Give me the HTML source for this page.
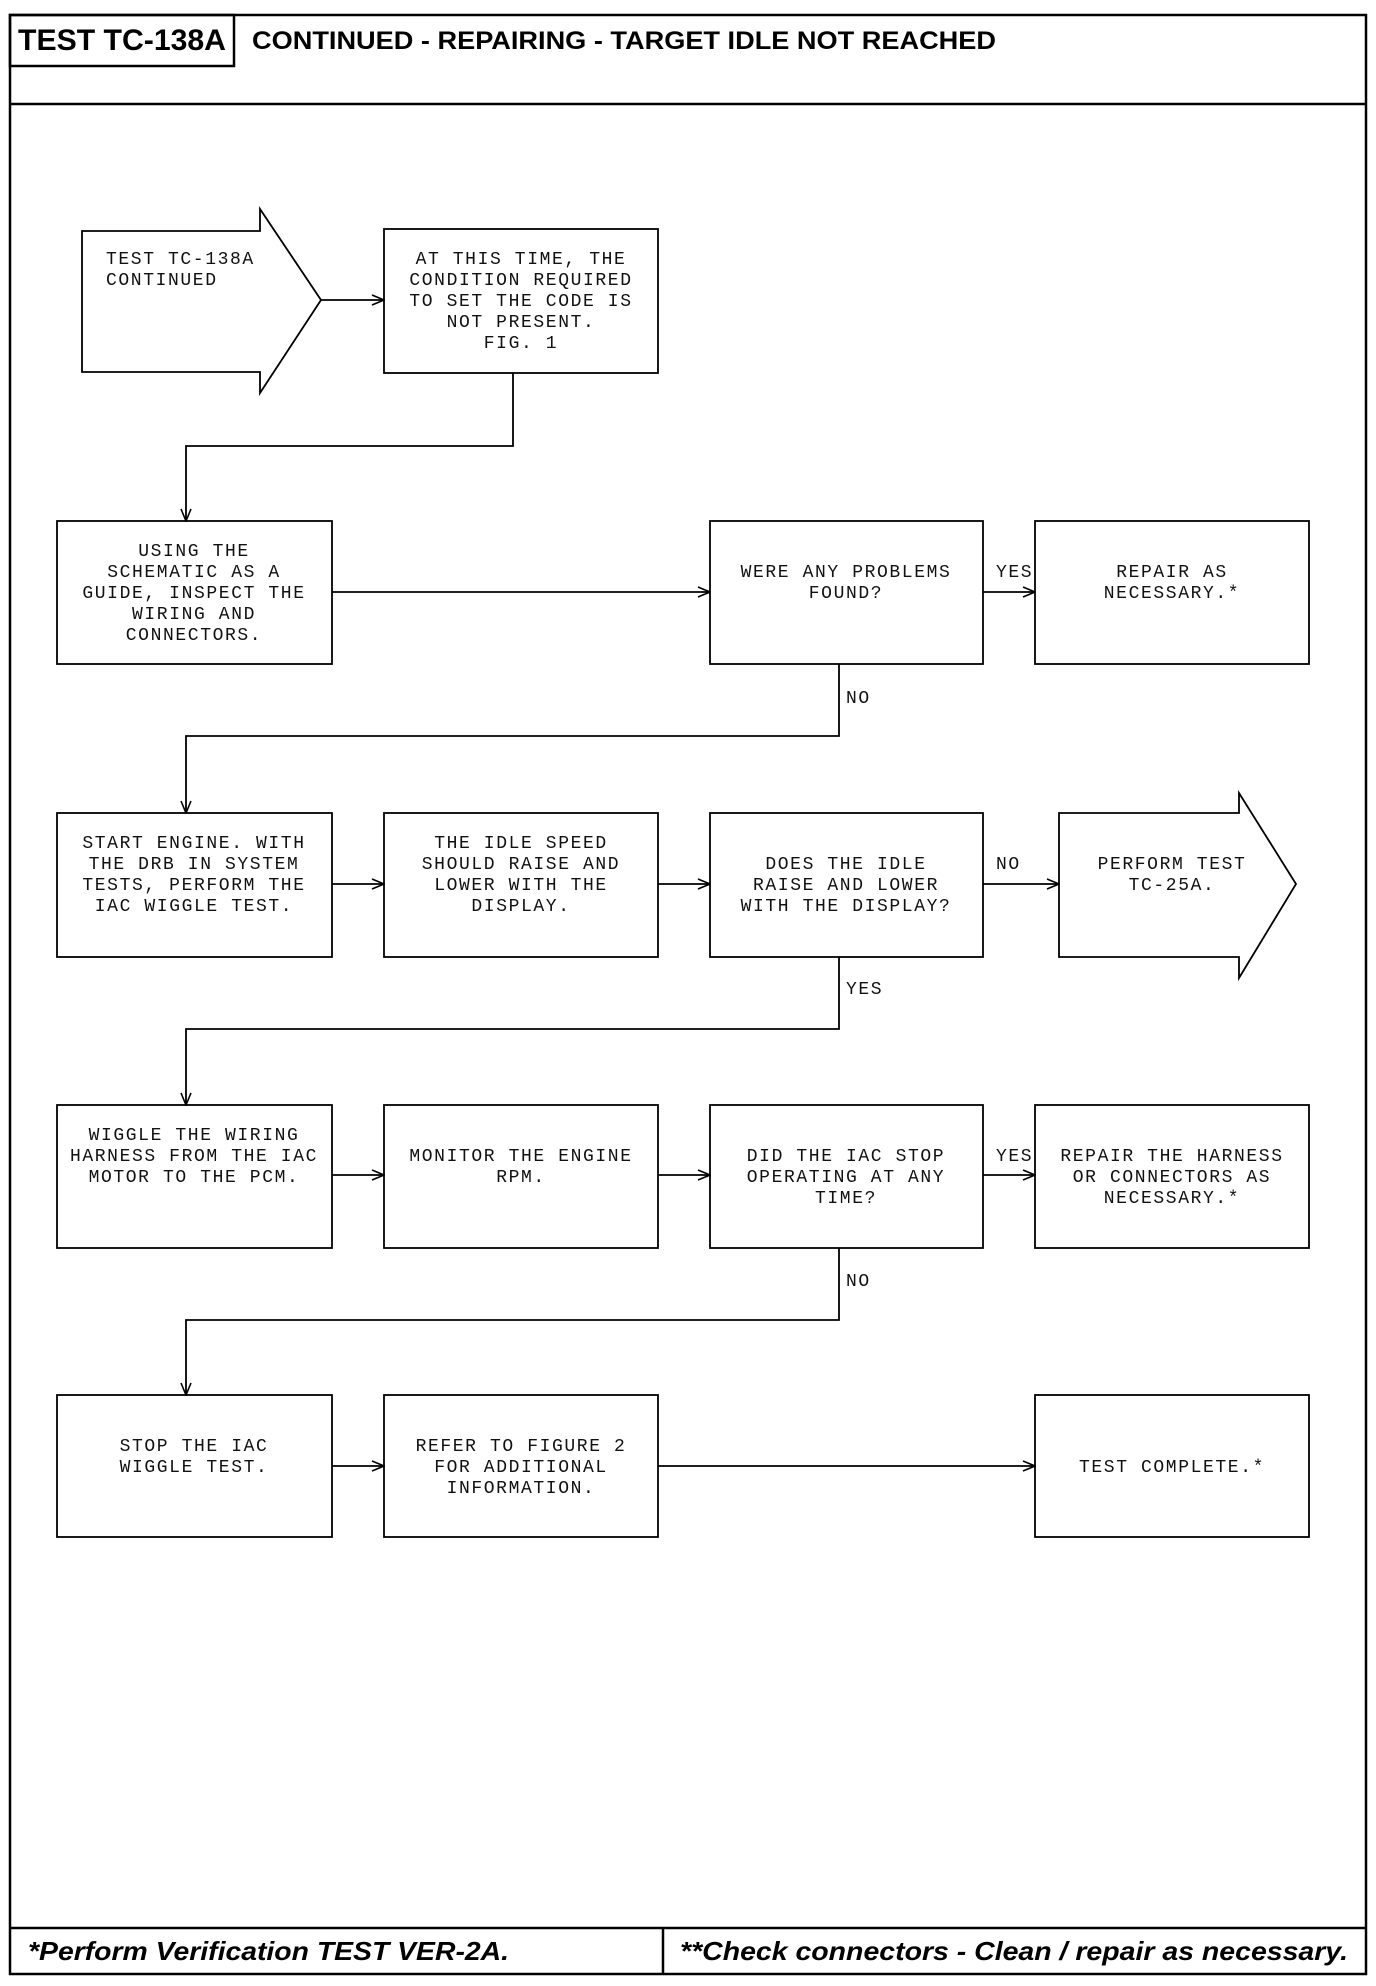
<!DOCTYPE html>
<html><head><meta charset="utf-8"><style>
html,body{margin:0;padding:0;background:#fff;}
svg{display:block;}
.t{font-family:"Liberation Mono",monospace;font-size:18px;letter-spacing:1.6px;fill:#111;}
.h{font-family:"Liberation Sans",sans-serif;font-weight:bold;fill:#000;}
.f{font-family:"Liberation Sans",sans-serif;font-weight:bold;font-style:italic;font-size:26px;fill:#000;}
</style></head><body>
<svg width="1376" height="1986" viewBox="0 0 1376 1986" xmlns="http://www.w3.org/2000/svg">
<defs><marker id="a" markerWidth="14" markerHeight="12" refX="13" refY="6" orient="auto" markerUnits="userSpaceOnUse"><path d="M1,1 L13,6 L1,11" fill="none" stroke="#000" stroke-width="1.6"/></marker></defs>
<g fill="none" stroke="#000" stroke-width="2.5">
<rect x="10" y="15" width="1356" height="1959"/>
<rect x="10" y="15" width="224" height="51"/>
<line x1="10" y1="104" x2="1366" y2="104"/>
<line x1="10" y1="1928" x2="1366" y2="1928"/>
<line x1="663" y1="1928" x2="663" y2="1974"/>
</g>
<text class="h" x="18" y="50" font-size="30" textLength="208" lengthAdjust="spacingAndGlyphs">TEST TC-138A</text>
<text class="h" x="252" y="49" font-size="25" textLength="744" lengthAdjust="spacingAndGlyphs">CONTINUED - REPAIRING - TARGET IDLE NOT REACHED</text>
<text class="f" x="28" y="1960" textLength="481" lengthAdjust="spacingAndGlyphs">*Perform Verification TEST VER-2A.</text>
<text class="f" x="680" y="1960" textLength="668" lengthAdjust="spacingAndGlyphs">**Check connectors - Clean / repair as necessary.</text>

<g fill="none" stroke="#000" stroke-width="1.8">
<polygon points="82,231 260,231 260,209 321,300 260,393 260,372 82,372"/>
<polygon points="1059,813 1239,813 1239,793 1296,884 1239,978 1239,957 1059,957"/>
<rect x="384" y="229" width="274" height="144"/>
<rect x="57" y="521" width="275" height="143"/>
<rect x="710" y="521" width="273" height="143"/>
<rect x="1035" y="521" width="274" height="143"/>
<rect x="57" y="813" width="275" height="144"/>
<rect x="384" y="813" width="274" height="144"/>
<rect x="710" y="813" width="273" height="144"/>
<rect x="57" y="1105" width="275" height="143"/>
<rect x="384" y="1105" width="274" height="143"/>
<rect x="710" y="1105" width="273" height="143"/>
<rect x="1035" y="1105" width="274" height="143"/>
<rect x="57" y="1395" width="275" height="142"/>
<rect x="384" y="1395" width="274" height="142"/>
<rect x="1035" y="1395" width="274" height="142"/>
</g>
<g fill="none" stroke="#000" stroke-width="1.8" marker-end="url(#a)">
<line x1="321" y1="300" x2="384" y2="300"/>
<polyline points="513,373 513,446 186,446 186,521"/>
<line x1="332" y1="592" x2="710" y2="592"/>
<line x1="983" y1="592" x2="1035" y2="592"/>
<polyline points="839,664 839,736 186,736 186,813"/>
<line x1="332" y1="884" x2="384" y2="884"/>
<line x1="658" y1="884" x2="710" y2="884"/>
<line x1="983" y1="884" x2="1059" y2="884"/>
<polyline points="839,957 839,1029 186,1029 186,1105"/>
<line x1="332" y1="1175" x2="384" y2="1175"/>
<line x1="658" y1="1175" x2="710" y2="1175"/>
<line x1="983" y1="1175" x2="1035" y2="1175"/>
<polyline points="839,1248 839,1320 186,1320 186,1395"/>
<line x1="332" y1="1466" x2="384" y2="1466"/>
<line x1="658" y1="1466" x2="1035" y2="1466"/>
</g>
<g class="t">
<text x="106" y="264">TEST TC-138A</text>
<text x="106" y="285">CONTINUED</text>
<g text-anchor="middle">
<text x="521" y="264">AT THIS TIME, THE</text>
<text x="521" y="285">CONDITION REQUIRED</text>
<text x="521" y="306">TO SET THE CODE IS</text>
<text x="521" y="327">NOT PRESENT.</text>
<text x="521" y="348">FIG. 1</text>

<text x="194" y="556">USING THE</text>
<text x="194" y="577">SCHEMATIC AS A</text>
<text x="194" y="598">GUIDE, INSPECT THE</text>
<text x="194" y="619">WIRING AND</text>
<text x="194" y="640">CONNECTORS.</text>
<text x="846" y="577">WERE ANY PROBLEMS</text>
<text x="846" y="598">FOUND?</text>
<text x="1172" y="577">REPAIR AS</text>
<text x="1172" y="598">NECESSARY.*</text>

<text x="194" y="848">START ENGINE. WITH</text>
<text x="194" y="869">THE DRB IN SYSTEM</text>
<text x="194" y="890">TESTS, PERFORM THE</text>
<text x="194" y="911">IAC WIGGLE TEST.</text>
<text x="521" y="848">THE IDLE SPEED</text>
<text x="521" y="869">SHOULD RAISE AND</text>
<text x="521" y="890">LOWER WITH THE</text>
<text x="521" y="911">DISPLAY.</text>
<text x="846" y="869">DOES THE IDLE</text>
<text x="846" y="890">RAISE AND LOWER</text>
<text x="846" y="911">WITH THE DISPLAY?</text>
<text x="1172" y="869">PERFORM TEST</text>
<text x="1172" y="890">TC-25A.</text>

<text x="194" y="1140">WIGGLE THE WIRING</text>
<text x="194" y="1161">HARNESS FROM THE IAC</text>
<text x="194" y="1182">MOTOR TO THE PCM.</text>
<text x="521" y="1161">MONITOR THE ENGINE</text>
<text x="521" y="1182">RPM.</text>
<text x="846" y="1161">DID THE IAC STOP</text>
<text x="846" y="1182">OPERATING AT ANY</text>
<text x="846" y="1203">TIME?</text>
<text x="1172" y="1161">REPAIR THE HARNESS</text>
<text x="1172" y="1182">OR CONNECTORS AS</text>
<text x="1172" y="1203">NECESSARY.*</text>

<text x="194" y="1451">STOP THE IAC</text>
<text x="194" y="1472">WIGGLE TEST.</text>
<text x="521" y="1451">REFER TO FIGURE 2</text>
<text x="521" y="1472">FOR ADDITIONAL</text>
<text x="521" y="1493">INFORMATION.</text>
<text x="1172" y="1472">TEST COMPLETE.*</text>
</g>
<text x="996" y="577">YES</text>
<text x="846" y="703">NO</text>
<text x="996" y="869">NO</text>
<text x="846" y="994">YES</text>
<text x="996" y="1161">YES</text>
<text x="846" y="1286">NO</text>
</g>
</svg>
</body></html>
